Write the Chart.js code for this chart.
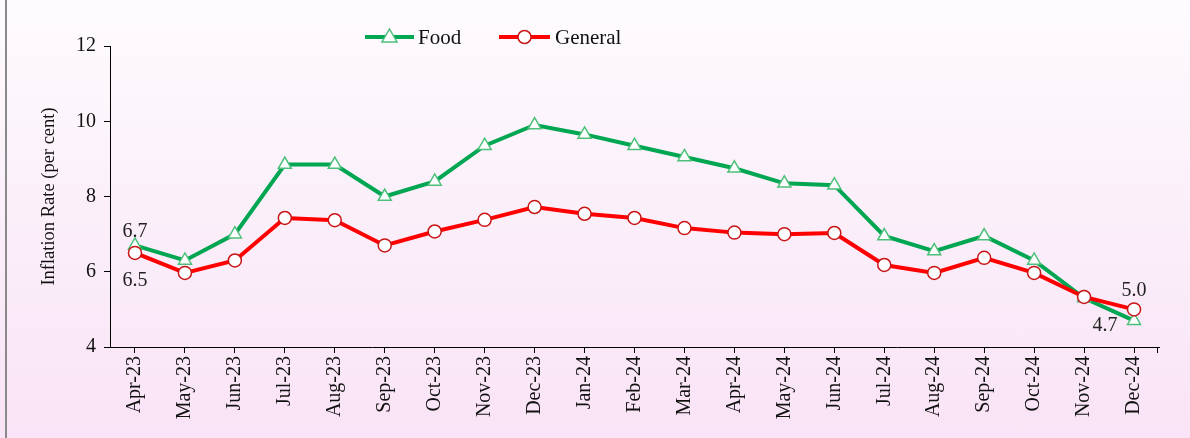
<!DOCTYPE html>
<html>
<head>
<meta charset="utf-8">
<script src="https://cdn.jsdelivr.net/npm/chart.js@4.4.1/dist/chart.umd.min.js"></script>
<style>
  html, body { margin: 0; padding: 0; }
  #wrap {
    position: relative; width: 1190px; height: 438px; overflow: hidden;
    background: linear-gradient(to bottom, #fefbfe 0%, #fbf0fa 45%, #f9e3f6 100%);
  }
  #edge { position: absolute; left: 5px; top: 0; width: 2px; height: 438px; background: #8a8a8a; }
  canvas { position: absolute; left: 0; top: 0; }
</style>
</head>
<body>
<div id="wrap"><div id="edge"></div><canvas id="c" width="1190" height="438"></canvas></div>
<script>
const categories = ["Apr-23","May-23","Jun-23","Jul-23","Aug-23","Sep-23","Oct-23","Nov-23","Dec-23","Jan-24","Feb-24","Mar-24","Apr-24","May-24","Jun-24","Jul-24","Aug-24","Sep-24","Oct-24","Nov-24","Dec-24"];
const foodValues = [6.7, 6.3, 7.0, 8.85, 8.85, 8.0, 8.4, 9.35, 9.9, 9.65, 9.35, 9.05, 8.75, 8.35, 8.3, 6.95, 6.55, 6.95, 6.3, 5.3, 4.7];
const generalValues = [6.5, 5.97, 6.3, 7.43, 7.37, 6.7, 7.07, 7.38, 7.72, 7.54, 7.43, 7.16, 7.04, 7.0, 7.03, 6.18, 5.97, 6.37, 5.97, 5.33, 5.0];
const yTicks = [4, 6, 8, 10, 12];
const seriesNames = ["Food", "General"];
const yTitle = "Inflation Rate (per cent)";
// points that carry a value label: [series index, category index, placement]
const labelledPoints = [[0, 0, "above"], [1, 0, "below"], [1, 20, "above"], [0, 20, "left"]];

const SERIF = "'Liberation Serif', 'Times New Roman', serif";
const GREEN = "#00a651";
const RED = "#ff0000";

const legendPlugin = {
  id: "customLegend",
  afterDraw(chart) {
    const ctx = chart.ctx;
    const y = 37;
    const items = [
      { x0: 365, x1: 414, tx: 418, color: GREEN, style: "triangle", border: "#4cc07a", text: seriesNames[0] },
      { x0: 499, x1: 550, tx: 555, color: RED, style: "circle", border: "#c81414", text: seriesNames[1] }
    ];
    ctx.save();
    items.forEach(it => {
      ctx.strokeStyle = it.color; ctx.lineWidth = 4; ctx.lineCap = "butt";
      ctx.beginPath(); ctx.moveTo(it.x0, y); ctx.lineTo(it.x1, y); ctx.stroke();
      const cx = (it.x0 + it.x1) / 2;
      ctx.fillStyle = "#ffffff"; ctx.strokeStyle = it.border; ctx.lineWidth = 1.5;
      ctx.beginPath();
      if (it.style === "circle") { ctx.arc(cx, y, 6.5, 0, Math.PI * 2); }
      else { ctx.moveTo(cx, y - 8); ctx.lineTo(cx + 7.5, y + 5); ctx.lineTo(cx - 7.5, y + 5); ctx.closePath(); }
      ctx.fill(); ctx.stroke();
      ctx.fillStyle = "#111"; ctx.font = "21px " + SERIF; ctx.textAlign = "left"; ctx.textBaseline = "middle";
      ctx.fillText(it.text, it.tx, y + 1);
    });
    ctx.restore();
  }
};

const valueLabelPlugin = {
  id: "valueLabels",
  afterDatasetsDraw(chart) {
    const ctx = chart.ctx;
    ctx.save();
    ctx.font = "20px " + SERIF; ctx.fillStyle = "#222"; ctx.textBaseline = "middle";
    labelledPoints.forEach(([s, i, pos]) => {
      const dsIndex = chart.data.datasets.findIndex(d => d.label === seriesNames[s]);
      const pt = chart.getDatasetMeta(dsIndex).data[i];
      const v = chart.data.datasets[dsIndex].data[i].toFixed(1);
      let x = pt.x, y = pt.y;
      ctx.textAlign = "center";
      if (pos === "above") y -= (i === 0 ? 14 : 19);
      else if (pos === "below") y += 28;
      else if (pos === "left") { x -= 29; y += 5; }
      ctx.fillText(v, x, y);
    });
    ctx.restore();
  }
};

const endTickPlugin = {
  id: "endTick",
  afterDraw(chart) {
    const a = chart.chartArea, ctx = chart.ctx;
    ctx.save(); ctx.strokeStyle = "#000"; ctx.lineWidth = 1;
    ctx.beginPath(); ctx.moveTo(a.right - 1.5, a.bottom); ctx.lineTo(a.right - 1.5, a.bottom + 6); ctx.stroke();
    ctx.restore();
  }
};

new Chart(document.getElementById("c"), {
  type: "line",
  data: {
    labels: categories,
    datasets: [
      {
        label: seriesNames[1], data: generalValues, order: 0,
        borderColor: RED, borderWidth: 4, tension: 0,
        pointStyle: "circle", pointRadius: 6.5, pointBorderWidth: 1.5,
        pointBackgroundColor: "#ffffff", pointBorderColor: "#c81414"
      },
      {
        label: seriesNames[0], data: foodValues, order: 1,
        borderColor: GREEN, borderWidth: 4, tension: 0,
        pointStyle: "triangle", pointRadius: 7.5, pointBorderWidth: 1.5,
        pointBackgroundColor: "#ffffff", pointBorderColor: "#4cc07a"
      }
    ]
  },
  options: {
    responsive: false, animation: false, devicePixelRatio: 1,
    layout: { padding: { left: 0, right: 31, top: 46, bottom: 0 } },
    plugins: { legend: { display: false }, tooltip: { enabled: false }, title: { display: false } },
    scales: {
      x: {
        type: "category", offset: true,
        grid: { offset: false, drawOnChartArea: false, tickLength: 6, color: "#000" },
        border: { color: "#000", width: 1 },
        ticks: { minRotation: 90, maxRotation: 90, autoSkip: false, padding: 3, color: "#111", font: { family: SERIF, size: 20 } },
        afterFit(scale) { scale.height = 91; }
      },
      y: {
        min: 4, max: 12,
        afterBuildTicks(scale) { scale.ticks = yTicks.map(v => ({ value: v })); },
        grid: { drawOnChartArea: false, tickLength: 6, color: "#000" },
        border: { color: "#000", width: 1 },
        ticks: { padding: 8, color: "#111", font: { family: SERIF, size: 20 } },
        title: { display: true, text: yTitle, color: "#111", font: { family: SERIF, size: 18.5 }, padding: { top: 38, bottom: 0 } },
        afterFit(scale) { scale.width = 110; }
      }
    }
  },
  plugins: [legendPlugin, valueLabelPlugin, endTickPlugin]
});
</script>
</body>
</html>
